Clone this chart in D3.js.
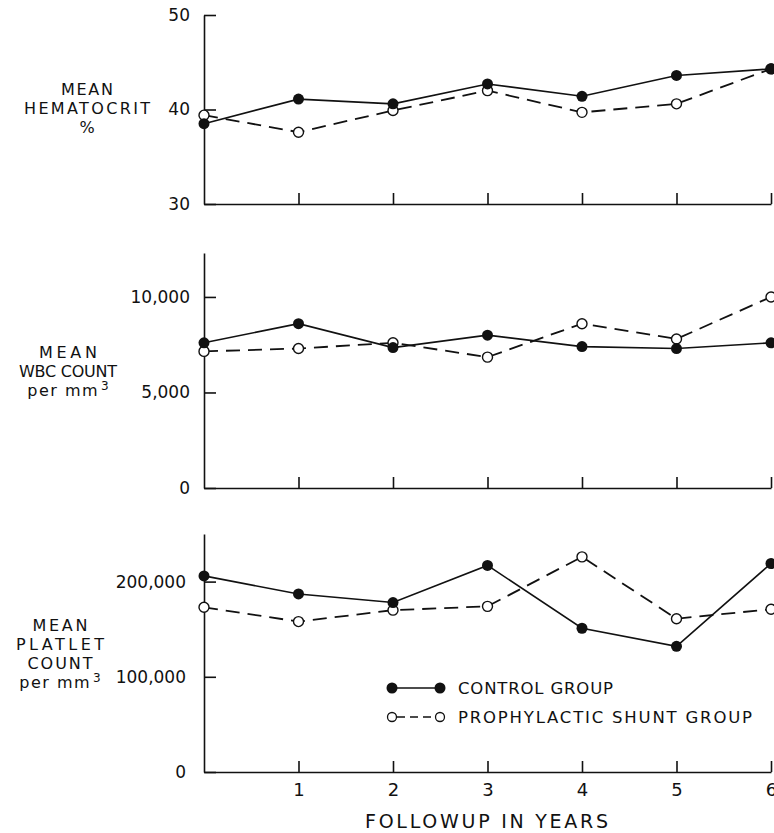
<!DOCTYPE html>
<html><head><meta charset="utf-8">
<script src="https://cdn.jsdelivr.net/npm/d3@7"></script>
<style>
body{margin:0;background:#fff}
svg text{font-family:"DejaVu Sans",sans-serif;fill:#111}
</style>
</head><body>
<script>
// ---- data ----
const years = [0, 1, 2, 3, 4, 5, 6];
const xTickValues = [1, 2, 3, 4, 5, 6];
const seriesNames = ["CONTROL GROUP", "PROPHYLACTIC SHUNT GROUP"];
const hctControl = [38.5, 41.1, 40.6, 42.7, 41.4, 43.6, 44.3];
const hctShunt   = [39.4, 37.6, 39.9, 42.0, 39.7, 40.6, 44.3];
const wbcControl = [7600, 8600, 7350, 8000, 7400, 7300, 7600];
const wbcShunt   = [7150, 7300, 7600, 6850, 8600, 7800, 10000];
const pltControl = [206000, 187000, 178000, 217000, 151000, 132000, 219000];
const pltShunt   = [173000, 158000, 170000, 174000, 226000, 161000, 171000];
const hctTicks = [30, 40, 50];
const wbcTicks = [0, 5000, 10000];
const pltTicks = [0, 100000, 200000];
const hctTitle = ["MEAN", "HEMATOCRIT", "%"];
const wbcTitle = ["MEAN", "WBC COUNT", "per mm|3"];
const pltTitle = ["MEAN", "PLATLET", "COUNT", "per mm|3"];
const xTitle = "FOLLOWUP IN YEARS";

const W = 774, H = 833;
const svg = d3.select("body").append("svg").attr("width", W).attr("height", H);
const x = d3.scaleLinear().domain([0, 6]).range([204, 771]);
const ink = "#111";

const panels = [
  {ctrl: hctControl, sh: hctShunt, ticks: hctTicks, domain: [30, 50], range: [204, 15], fmt: d3.format("d"), title: hctTitle, widths: [52, 126, 0], tx: 87, ty: 89, pad: 14, xlabels: false},
  {ctrl: wbcControl, sh: wbcShunt, ticks: wbcTicks, domain: [0, 12300], range: [488, 253], fmt: d3.format(","), title: wbcTitle, widths: [58, 98, 0], tx: 68, ty: 352, pad: 14, xlabels: false},
  {ctrl: pltControl, sh: pltShunt, ticks: pltTicks, domain: [0, 250000], range: [772, 534], fmt: d3.format(","), title: pltTitle, widths: [55, 88, 65, 0], tx: 60, ty: 625, pad: 18, xlabels: true}
];

panels.forEach(p => {
  const y = d3.scaleLinear().domain(p.domain).range(p.range);
  const g = svg.append("g");
  // y axis
  const ya = g.append("g").attr("transform", `translate(${x(0)},0)`)
    .call(d3.axisLeft(y).tickValues(p.ticks).tickFormat(p.fmt).tickSizeInner(-12).tickSizeOuter(0).tickPadding(p.pad));
  ya.selectAll("text").style("font-size", "17px").attr("fill", ink);
  // x axis
  const xa = g.append("g").attr("transform", `translate(0,${p.range[0]})`)
    .call(d3.axisBottom(x).tickValues(xTickValues).tickSizeInner(-11).tickSizeOuter(0).tickPadding(11)
      .tickFormat(p.xlabels ? d3.format("d") : () => ""));
  xa.selectAll("text").style("font-size", "18px").attr("fill", ink);
  g.selectAll(".domain, .tick line").attr("stroke", ink).attr("stroke-width", 1.6);

  const line = d3.line().x((d, i) => x(years[i])).y(d => y(d));
  g.append("path").datum(p.sh).attr("d", line).attr("fill", "none").attr("stroke", ink)
    .attr("stroke-width", 1.8).attr("stroke-dasharray", "14,8");
  g.append("path").datum(p.ctrl).attr("d", line).attr("fill", "none").attr("stroke", ink)
    .attr("stroke-width", 1.6);
  g.selectAll(".sh").data(p.sh).join("circle").attr("class", "sh")
    .attr("cx", (d, i) => x(years[i])).attr("cy", d => y(d)).attr("r", 5)
    .attr("fill", "#fff").attr("stroke", ink).attr("stroke-width", 1.4);
  g.selectAll(".ct").data(p.ctrl).join("circle").attr("class", "ct")
    .attr("cx", (d, i) => x(years[i])).attr("cy", d => y(d)).attr("r", 5.5)
    .attr("fill", ink);

  // y title
  p.title.forEach((ln, i) => {
    const t = g.append("text").attr("x", p.tx).attr("y", p.ty + i * 19).attr("dy", "0.36em")
      .attr("text-anchor", "middle").style("font-size", "16px");
    if (ln.includes("|")) {
      const [a, b] = ln.split("|");
      t.append("tspan").text(a).style("letter-spacing", "1.5px");
      t.append("tspan").attr("dy", "-0.45em").attr("dx", "2").style("font-size", "12px").text(b);
    } else {
      t.text(ln);
      if (p.widths[i]) t.attr("textLength", p.widths[i]).attr("lengthAdjust", "spacing");
    }
  });
});

// legend
const lg = svg.append("g");
lg.append("line").attr("x1", 392).attr("x2", 440).attr("y1", 688).attr("y2", 688).attr("stroke", ink).attr("stroke-width", 1.6);
[392, 440].forEach(cx => lg.append("circle").attr("cx", cx).attr("cy", 688).attr("r", 5.5).attr("fill", ink));
lg.append("line").attr("x1", 392).attr("x2", 440).attr("y1", 717).attr("y2", 717).attr("stroke", ink).attr("stroke-width", 1.6).attr("stroke-dasharray", "8,5").attr("stroke-dashoffset", -5);
[392, 440].forEach(cx => lg.append("circle").attr("cx", cx).attr("cy", 717).attr("r", 4.5).attr("fill", "#fff").attr("stroke", ink).attr("stroke-width", 1.3));
const legendWidths = [155, 294];
seriesNames.forEach((n, i) => lg.append("text").attr("x", 458).attr("y", 688 + i * 29).attr("dy", "0.36em")
  .style("font-size", "16.5px").attr("textLength", legendWidths[i]).attr("lengthAdjust", "spacing").text(n));

// x title
svg.append("text").attr("x", 365).attr("y", 821).attr("dy", "0.36em")
  .style("font-size", "19px").attr("textLength", 243).attr("lengthAdjust", "spacing").text(xTitle);
</script>
</body></html>
